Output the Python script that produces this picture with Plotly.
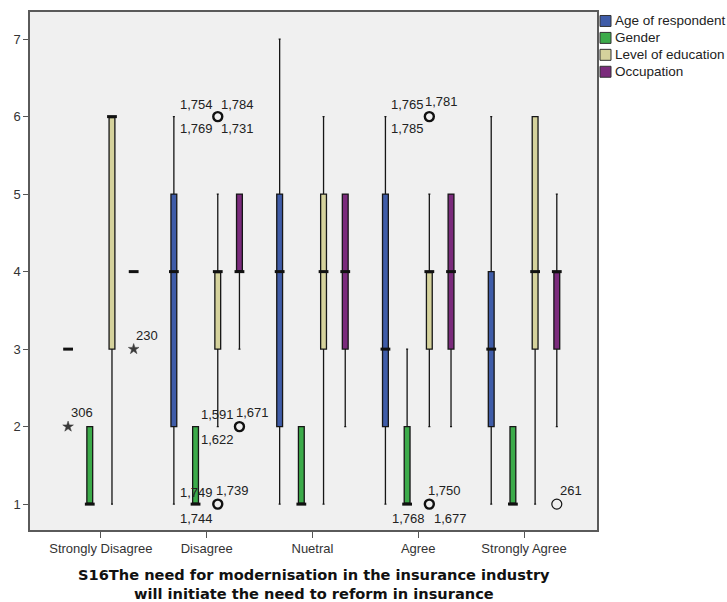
import plotly.graph_objects as go

# Response categories of item S16 and the four respondent attributes
categories = ["Strongly Disagree", "Disagree", "Nuetral", "Agree", "Strongly Agree"]
series_names = ["Age of respondent", "Gender", "Level of education", "Occupation"]
series_colors = ["#3F5CA8", "#3CAB4A", "#D5D29C", "#7B2B7C"]

# Box statistics per category (q1, median, q3, lower whisker, upper whisker)
age_q1 = [3, 2, 2, 2, 2]
age_med = [3, 4, 4, 3, 3]
age_q3 = [3, 5, 5, 5, 4]
age_lo = [3, 1, 1, 1, 1]
age_hi = [3, 6, 7, 6, 6]

gender_q1 = [1, 1, 1, 1, 1]
gender_med = [1, 1, 1, 1, 1]
gender_q3 = [2, 2, 2, 2, 2]
gender_lo = [1, 1, 1, 1, 1]
gender_hi = [2, 2, 2, 3, 2]

edu_q1 = [3, 3, 3, 3, 3]
edu_med = [6, 4, 4, 4, 4]
edu_q3 = [6, 4, 5, 4, 6]
edu_lo = [1, 2, 1, 2, 1]
edu_hi = [6, 5, 6, 5, 6]

occ_q1 = [4, 4, 3, 3, 3]
occ_med = [4, 4, 4, 4, 4]
occ_q3 = [4, 5, 5, 5, 4]
occ_lo = [4, 3, 2, 2, 2]
occ_hi = [4, 5, 5, 5, 5]

stats = [
    (age_q1, age_med, age_q3, age_lo, age_hi),
    (gender_q1, gender_med, gender_q3, gender_lo, gender_hi),
    (edu_q1, edu_med, edu_q3, edu_lo, edu_hi),
    (occ_q1, occ_med, occ_q3, occ_lo, occ_hi),
]

# Outlying cases: series index, category index, value, kind, case labels
outlier_series = [0, 3, 2, 2, 3, 2, 2, 3]
outlier_category = [0, 0, 1, 1, 1, 3, 3, 4]
outlier_value = [2, 3, 6, 1, 2, 6, 1, 1]
outlier_kind = ["extreme", "extreme", "outlier", "outlier", "outlier", "outlier", "outlier", "outlier"]
outlier_cases = [
    ["306"],
    ["230"],
    ["1,754", "1,784", "1,769", "1,731"],
    ["1,749", "1,739", "1,744"],
    ["1,591", "1,671", "1,622"],
    ["1,765", "1,781", "1,785"],
    ["1,750", "1,768", "1,677"],
    ["261"],
]
# pixel offsets of each case label from its marker (dx right, dy up)
label_offsets = [
    [(14, 14)],
    [(13, 14)],
    [(-21, 12), (20, 12), (-21, -12), (20, -12)],
    [(-21, 12), (15, 14), (-21, -14)],
    [(-22, 12), (13, 14), (-22, -13)],
    [(-22, 12), (12, 15), (-22, -12)],
    [(15, 14), (-21, -14), (21, -14)],
    [(14, 14)],
]

group_offsets = [-0.31, -0.105, 0.105, 0.31]
box_width = 0.055
label_font = dict(family="Liberation Sans, Arial", size=13, color="#222222")

fig = go.Figure()

for s, name in enumerate(series_names):
    q1, med, q3, lo, hi = stats[s]
    xs = [i + group_offsets[s] for i in range(len(categories))]
    fig.add_trace(go.Box(
        x=xs, q1=q1, median=med, q3=q3, lowerfence=lo, upperfence=hi,
        width=box_width, whiskerwidth=0.35,
        fillcolor=series_colors[s],
        line=dict(color="#161616", width=1.3),
        boxpoints=False, showlegend=False, hoverinfo="skip", name=name,
    ))
    # thick median bars
    fig.add_trace(go.Scatter(
        x=xs, y=med, mode="markers",
        marker=dict(symbol="line-ew", size=7, color="#111111",
                    line=dict(color="#111111", width=3)),
        showlegend=False, hoverinfo="skip",
    ))

annotations = []
for k in range(len(outlier_value)):
    xk = outlier_category[k] + group_offsets[outlier_series[k]]
    yk = outlier_value[k]
    if outlier_kind[k] == "extreme":
        marker = dict(symbol="star", size=8, color="#3a3a3a",
                      line=dict(color="#3a3a3a", width=0.5))
    else:
        thin = len(outlier_cases[k]) == 1
        marker = dict(symbol="circle-open", size=9 if not thin else 10, color="#111111",
                      line=dict(color="#111111", width=2.4 if not thin else 1.2))
    fig.add_trace(go.Scatter(x=[xk], y=[yk], mode="markers", marker=marker,
                             showlegend=False, hoverinfo="skip"))
    for case, (dx, dy) in zip(outlier_cases[k], label_offsets[k]):
        annotations.append(dict(
            x=xk, y=yk, xref="x", yref="y", text=case, showarrow=False,
            xshift=dx, yshift=dy, font=label_font,
        ))

# legend: colour swatches with series names, to the right of the plot
plot_w, plot_h = 567, 520
shapes = []
for s, name in enumerate(series_names):
    cy = 1 - (9 + 17 * s) / plot_h
    x0 = (570 / plot_w)
    shapes.append(dict(
        type="rect", xref="paper", yref="paper",
        x0=x0, x1=x0 + 11 / plot_w, y0=cy - 5.5 / plot_h, y1=cy + 5.5 / plot_h,
        fillcolor=series_colors[s], line=dict(color="#333333", width=1),
    ))
    annotations.append(dict(
        x=(583 / plot_w), y=cy, xref="paper", yref="paper", xanchor="left",
        yanchor="middle", text=name, showarrow=False,
        font=dict(family="Liberation Sans, Arial", size=13.5, color="#222222"),
    ))

annotations.append(dict(
    x=0.5, y=-0.066, xref="paper", yref="paper", yanchor="top",
    text="S16The need for modernisation in the insurance industry<br>will initiate the need to reform in insurance",
    showarrow=False,
    font=dict(family="DejaVu Sans", size=14.6, color="#111111", weight="bold"),
))

fig.update_layout(
    width=727, height=602,
    margin=dict(l=30, r=130, t=10, b=72),
    paper_bgcolor="white", plot_bgcolor="#F0F0F0",
    boxmode="overlay", showlegend=False,
    annotations=annotations, shapes=shapes,
    font=dict(family="Liberation Sans, Arial", size=13, color="#333333"),
)
fig.update_xaxes(
    range=[-0.67, 4.69], tickvals=list(range(len(categories))), ticktext=categories,
    ticks="outside", ticklen=6, tickcolor="#555555", showgrid=False, zeroline=False,
    showline=True, mirror=True, linecolor="#5a5a5a", linewidth=1.5,
)
fig.update_yaxes(
    range=[0.666, 7.35], tickvals=[1, 2, 3, 4, 5, 6, 7],
    ticks="outside", ticklen=5, tickcolor="#555555", showgrid=False, zeroline=False,
    showline=True, mirror=True, linecolor="#5a5a5a", linewidth=1.5,
)

fig.write_html("out.html")
